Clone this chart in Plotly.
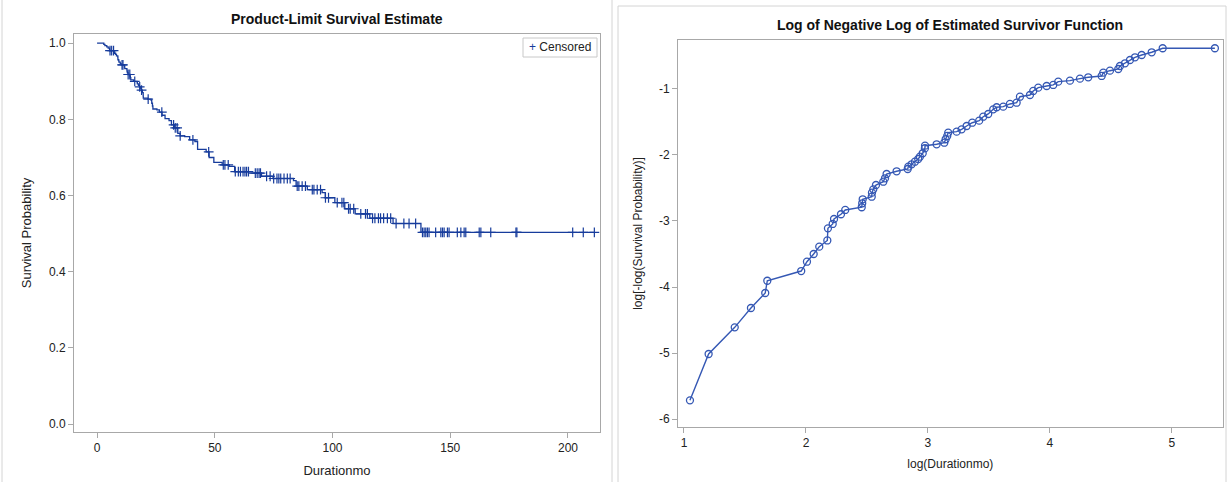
import numpy as np
import plotly.graph_objects as go

# ---------------- data ----------------
# Left panel: Kaplan-Meier event times (months) and survival after each event
event_times = [2.85, 3.33, 4.12, 4.71, 5.29, 5.38, 7.11, 7.45, 7.87, 8.24,
               8.80, 8.85, 9.20, 9.30, 9.85, 10.20, 11.67, 11.72, 11.76, 12.67,
               12.70, 12.83, 13.12, 13.93, 14.13, 14.31, 15.53, 17.01, 17.10, 17.57,
               18.05, 18.54, 18.80, 19.24, 19.59, 19.62, 21.56, 22.97, 23.22, 23.52,
               23.71, 25.41, 26.47, 27.58, 28.87, 30.57, 31.59, 32.92, 34.29, 35.27,
               37.22, 39.33, 41.55, 42.69, 46.33, 47.60, 49.59, 53.13, 56.08, 58.43,
               64.32, 69.82, 74.74, 83.43, 84.53, 89.31, 95.58, 96.93, 100.99, 105.21,
               109.62, 115.82, 125.71, 137.55]
survival = [0.9967, 0.9934, 0.9901, 0.9868, 0.9834, 0.9801, 0.9769, 0.9735, 0.9703, 0.9668,
            0.9636, 0.9564, 0.9535, 0.9500, 0.9464, 0.9429, 0.9405, 0.9370, 0.9332, 0.9306,
            0.9264, 0.9227, 0.9177, 0.9137, 0.9093, 0.9035, 0.8997, 0.8963, 0.8928, 0.8891,
            0.8850, 0.8805, 0.8765, 0.8703, 0.8609, 0.8557, 0.8529, 0.8496, 0.8422, 0.8349,
            0.8271, 0.8248, 0.8190, 0.8107, 0.8020, 0.7964, 0.7853, 0.7774, 0.7631, 0.7566,
            0.7547, 0.7459, 0.7417, 0.7209, 0.7147, 0.6998, 0.6871, 0.6806, 0.6764, 0.6629,
            0.6588, 0.6505, 0.6446, 0.6389, 0.6244, 0.6155, 0.6077, 0.5940, 0.5811, 0.5652,
            0.5518, 0.5402, 0.5265, 0.5030]
max_time = 211.2

# censored observation times (months)
censor_times = [5.5, 6.2, 7.0, 10.6, 11.0, 13.2, 13.9, 16.0, 18.1, 18.9,
                21.7, 27.5, 32.5, 33.2, 34.0, 35.3, 40.7, 47.4, 53.6, 54.3,
                55.7, 58.7, 60.0, 60.9, 62.0, 62.8, 63.5, 64.3, 67.2, 68.0,
                68.8, 69.4, 72.0, 73.5, 75.0, 76.4, 77.2, 78.0, 79.4, 80.8,
                82.0, 85.0, 85.7, 87.1, 88.5, 91.4, 92.1, 93.5, 94.9, 97.0,
                98.3, 102.0, 104.0, 104.8, 106.8, 107.5, 109.0, 112.0, 114.0, 114.8,
                117.0, 118.0, 119.5, 120.4, 121.7, 123.3, 124.7, 127.0, 130.3, 132.5,
                135.3, 138.2, 138.9, 139.6, 140.3, 141.0, 143.8, 146.0, 146.7, 147.4,
                148.8, 149.5, 153.0, 154.5, 155.9, 156.6, 162.3, 163.0, 167.2, 177.9,
                178.3, 202.0, 206.5, 211.2]

# Right panel: log(time) vs log(-log(S)) points
log_time = [1.049, 1.202, 1.416, 1.549, 1.666, 1.683, 1.961, 2.008, 2.063, 2.109,
            2.175, 2.180, 2.219, 2.230, 2.287, 2.322, 2.457, 2.461, 2.465, 2.539,
            2.541, 2.552, 2.574, 2.634, 2.648, 2.661, 2.743, 2.834, 2.839, 2.866,
            2.893, 2.920, 2.934, 2.957, 2.975, 2.976, 3.071, 3.134, 3.145, 3.158,
            3.166, 3.235, 3.276, 3.317, 3.363, 3.420, 3.453, 3.494, 3.535, 3.563,
            3.617, 3.672, 3.727, 3.754, 3.836, 3.863, 3.904, 3.973, 4.027, 4.068,
            4.164, 4.246, 4.314, 4.424, 4.437, 4.492, 4.560, 4.574, 4.615, 4.656,
            4.697, 4.752, 4.834, 4.924, 5.352]
log_neg_log_s = [-5.717, -5.015, -4.611, -4.318, -4.091, -3.905, -3.758, -3.617, -3.500, -3.389,
                 -3.295, -3.111, -3.045, -2.970, -2.898, -2.833, -2.792, -2.732, -2.671, -2.632,
                 -2.571, -2.520, -2.455, -2.405, -2.353, -2.288, -2.247, -2.212, -2.177, -2.141,
                 -2.102, -2.061, -2.026, -1.974, -1.898, -1.859, -1.838, -1.814, -1.762, -1.712,
                 -1.662, -1.647, -1.611, -1.561, -1.511, -1.480, -1.420, -1.379, -1.308, -1.277,
                 -1.268, -1.227, -1.208, -1.117, -1.091, -1.030, -0.980, -0.955, -0.939, -0.889,
                 -0.874, -0.844, -0.823, -0.803, -0.753, -0.723, -0.697, -0.652, -0.611, -0.561,
                 -0.520, -0.485, -0.444, -0.383, -0.383]

left_xticks = [0, 50, 100, 150, 200]
left_yticks = [0.0, 0.2, 0.4, 0.6, 0.8, 1.0]
right_xticks = [1, 2, 3, 4, 5]
right_yticks = [-6, -5, -4, -3, -2, -1]
right_yticklabels = ["-6", "-5", "-4", "-3", "-2", "-1"]

# ---------------- figure ----------------
W, H = 1228, 482
FONT = "Liberation Sans, Arial, sans-serif"
BLUE = "#173c9c"
BLUE2 = "#3558b4"
AXC = "#a8a8a8"
TXT = "#222222"

def px_x(p):
    return p / W

def px_y(p):
    return 1 - p / H

km_x = [0.0] + list(event_times) + [max_time]
km_y = [1.0] + list(survival) + [survival[-1]]

# survival value at each censored time (step lookup)
ev = np.array(event_times)
sv = np.array(survival)
idx = np.searchsorted(ev, np.array(censor_times), side="right") - 1
cens_y = [1.0 if i < 0 else float(sv[i]) for i in idx]

fig = go.Figure()
fig.add_trace(go.Scatter(x=km_x, y=km_y, mode="lines", line=dict(color=BLUE, width=1.3, shape="hv"),
                         showlegend=False, hoverinfo="skip", xaxis="x", yaxis="y"))
fig.add_trace(go.Scatter(x=censor_times, y=cens_y, mode="markers", name="Censored",
                         marker=dict(symbol="cross-thin", size=7, line=dict(color=BLUE, width=1.2), color=BLUE),
                         showlegend=False, xaxis="x", yaxis="y"))
fig.add_trace(go.Scatter(x=log_time, y=log_neg_log_s, mode="lines+markers",
                         line=dict(color=BLUE2, width=1.4),
                         marker=dict(symbol="circle-open", size=7, line=dict(color="#2446a6", width=1.3)),
                         showlegend=False, xaxis="x2", yaxis="y2"))

axis_common = dict(showgrid=False, zeroline=False, showline=True, linecolor=AXC, linewidth=1,
                   mirror=True, ticks="outside", tickcolor=AXC, ticklen=5, tickwidth=1,
                   tickfont=dict(family=FONT, size=12, color=TXT))

fig.update_layout(
    width=W, height=H, margin=dict(l=0, r=0, t=0, b=0),
    paper_bgcolor="white", plot_bgcolor="white",
    font=dict(family=FONT, color=TXT),
    showlegend=False,
    xaxis=dict(domain=[px_x(74), px_x(600)], range=[-9.8, 213.6], tickvals=left_xticks,
               title=dict(text="Durationmo", font=dict(size=13), standoff=11), anchor="y", **axis_common),
    yaxis=dict(domain=[px_y(432), px_y(34)], range=[-0.021, 1.024], tickvals=left_yticks,
               tickformat=".1f", title=dict(text="Survival Probability", font=dict(size=13), standoff=14),
               anchor="x", **axis_common),
    xaxis2=dict(domain=[px_x(678), px_x(1222.7)], range=[0.951, 5.416], tickvals=right_xticks,
                title=dict(text="log(Durationmo)", font=dict(size=12), standoff=10), anchor="y2", **axis_common),
    yaxis2=dict(domain=[px_y(427), px_y(40)], range=[-6.121, -0.258], tickvals=right_yticks,
                ticktext=right_yticklabels,
                title=dict(text="log[-log(Survival Probability)]", font=dict(size=12), standoff=13),
                anchor="x2", **axis_common),
)

# legend box (Censored)
fig.add_shape(type="rect", xref="paper", yref="paper", x0=px_x(523), x1=px_x(597), y0=px_y(57), y1=px_y(38),
              line=dict(color="#c8c8c8", width=1), fillcolor="white")
fig.add_annotation(text="<span style='color:%s'>+</span> Censored" % BLUE, x=px_x(527), y=px_y(47.5),
                   xref="paper", yref="paper", showarrow=False, xanchor="left", yanchor="middle",
                   font=dict(size=12, family=FONT, color=TXT))

# panel titles
fig.add_annotation(text="<b>Product-Limit Survival Estimate</b>", x=px_x(337), y=px_y(19),
                   xref="paper", yref="paper", showarrow=False, font=dict(size=14, family=FONT, color="#111"),
                   xanchor="center", yanchor="middle")
fig.add_annotation(text="<b>Log of Negative Log of Estimated Survivor Function</b>", x=px_x(950), y=px_y(25),
                   xref="paper", yref="paper", showarrow=False, font=dict(size=14, family=FONT, color="#111"),
                   xanchor="center", yanchor="middle")

# image borders of the two panels
fig.add_shape(type="rect", xref="paper", yref="paper", x0=px_x(2), x1=px_x(612), y0=px_y(490), y1=px_y(-5),
              line=dict(color="#d4d4d4", width=1), fillcolor="rgba(0,0,0,0)", layer="below")
fig.add_shape(type="rect", xref="paper", yref="paper", x0=px_x(618), x1=px_x(1226), y0=px_y(490), y1=px_y(6),
              line=dict(color="#d4d4d4", width=1), fillcolor="rgba(0,0,0,0)", layer="below")

fig.write_html("out.html")
